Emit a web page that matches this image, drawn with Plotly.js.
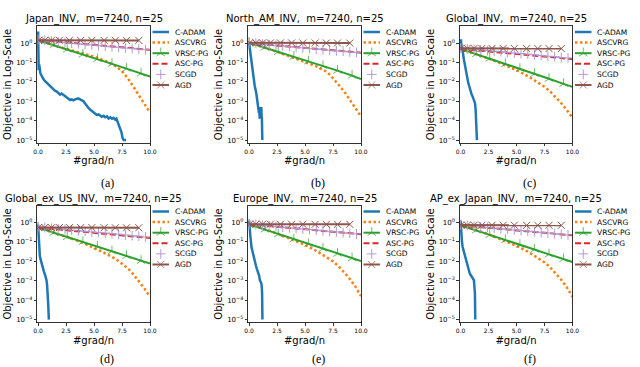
<!DOCTYPE html>
<html>
<head>
<meta charset="utf-8">
<script src="https://cdn.plot.ly/plotly-3.0.1.min.js"></script>
<style>html,body{margin:0;padding:0;background:#fff;}#chart{width:640px;height:367px;}</style>
</head>
<body>
<div id="chart"></div>
<script>
// ---------------- data ----------------
const panelNames = ['Japan_INV', 'North_AM_INV', 'Global_INV', 'Global_ex_US_INV', 'Europe_INV', 'AP_ex_Japan_INV'];
const captions = ['(a)', '(b)', '(c)', '(d)', '(e)', '(f)'];
const methods = ['C-ADAM', 'ASCVRG', 'VRSC-PG', 'ASC-PG', 'SCGD', 'AGD'];

const xTickVals = [0, 2.5, 5, 7.5, 10];
const xTickText = ['0.0', '2.5', '5.0', '7.5', '10.0'];
const yTickVals = [1e-5, 1e-4, 1e-3, 1e-2, 1e-1, 1];
const yTickText = ['10<sup>\u22125</sup>', '10<sup>\u22124</sup>', '10<sup>\u22123</sup>', '10<sup>\u22122</sup>', '10<sup>\u22121</sup>', '10<sup>0</sup>'];

// shared x grids (#grad/n)
const xAscvrg = [0, 1, 2, 3, 4, 5, 6, 7, 7.5, 8, 8.5, 9, 9.5, 10];
const xAscpg = [0, 2, 4, 6, 8, 10];
const xVrsc = [0, 1.4, 2.6, 4.0, 5.3, 6.6, 7.9, 9.2, 10];
const vrscMarkerSize = [7, 7, 7, 7, 7, 7, 7, 7, 0];
const xScgd = [0, 0.6, 1.2, 1.8, 2.4, 3.0, 3.6, 4.2, 4.8, 5.4, 6.0, 6.6, 7.2, 7.8, 8.4, 9.0, 9.6];
const xAgd = [0.05, 0.6, 1.2, 1.9, 2.8, 3.8, 4.8, 5.9, 6.9, 7.9, 9.0];

// (a) Japan_INV
const cadamX_a = [0, 0.02, 0.05, 0.1, 0.2, 0.3, 0.47, 0.6, 0.77, 0.9, 1.07, 1.2, 1.37, 1.5, 1.67, 1.8, 1.96, 2.1, 2.26, 2.4, 2.56, 2.7, 2.86, 3.0, 3.15, 3.3, 3.45, 3.6, 3.75, 3.9, 4.05, 4.2, 4.35, 4.5, 4.64, 4.8, 4.94, 5.1, 5.24, 5.4, 5.54, 5.7, 5.85, 6.0, 6.15, 6.3, 6.45, 6.6, 6.75, 6.9, 7.0, 7.15, 7.3, 7.45, 7.55, 7.65, 7.86];
const cadamY_a = [3.98, 0.5, 0.04, 0.079, 0.028, 0.02, 0.014, 0.0112, 0.0089, 0.0071, 0.0056, 0.005, 0.0042, 0.0035, 0.0032, 0.0026, 0.0022, 0.0025, 0.0021, 0.0018, 0.00145, 0.0013, 0.00117, 0.00126, 0.00112, 0.00126, 0.00135, 0.0014, 0.00126, 0.00112, 0.001, 7.6e-4, 5.6e-4, 4.5e-4, 3.8e-4, 3.2e-4, 2.5e-4, 2.2e-4, 2.0e-4, 2.1e-4, 1.9e-4, 1.6e-4, 1.8e-4, 1.5e-4, 1.66e-4, 1.3e-4, 1.5e-4, 1.26e-4, 1.4e-4, 1.12e-4, 1.26e-4, 7.9e-5, 4.0e-5, 2.5e-5, 1.26e-5, 1e-5, 1e-5];
const ascvrg_a = [1.41, 0.89, 0.6, 0.42, 0.3, 0.2, 0.12, 0.063, 0.035, 0.016, 0.0058, 0.0021, 0.00071, 0.00026];
const vrsc_a = [1.41, 0.79, 0.47, 0.26, 0.15, 0.085, 0.048, 0.027, 0.019];
const ascpg_a = [1.45, 1.15, 0.92, 0.74, 0.58, 0.45];
const scgd_a = [1.5, 1.38, 1.25, 1.15, 1.06, 0.98, 0.92, 0.85, 0.8, 0.74, 0.69, 0.64, 0.6, 0.56, 0.52, 0.49, 0.46];
const agd_a = [1.4, 1.4, 1.39, 1.39, 1.39, 1.38, 1.38, 1.38, 1.38, 1.37, 1.37];

// (b) North_AM_INV
const cadamX_b = [0, 0.1, 0.2, 0.3, 0.4, 0.5, 0.64, 0.72, 0.79, 0.85, 0.88, 0.91, 0.94, 0.97, 1.0, 1.03, 1.06, 1.09, 1.12, 1.14, 1.16, 1.18];
const cadamY_b = [1.0, 0.32, 0.093, 0.035, 0.013, 0.0063, 0.0026, 0.0014, 8.1e-4, 4e-4, 2.5e-4, 5e-4, 1.26e-4, 3.2e-4, 2e-4, 4.5e-4, 1.6e-4, 5e-4, 1.4e-4, 1.6e-4, 5e-5, 1e-5];
const ascvrg_b = [1.05, 0.71, 0.45, 0.28, 0.166, 0.1, 0.063, 0.032, 0.016, 0.0071, 0.0032, 0.0012, 4.0e-4, 1.66e-4];
const vrsc_b = [1.05, 0.59, 0.35, 0.2, 0.115, 0.066, 0.038, 0.021, 0.014];
const ascpg_b = [1.0, 0.8, 0.65, 0.52, 0.41, 0.32];
const scgd_b = [1.05, 0.97, 0.9, 0.83, 0.77, 0.71, 0.66, 0.61, 0.57, 0.53, 0.5, 0.46, 0.43, 0.4, 0.38, 0.35, 0.33];
const agd_b = [1.03, 1.03, 1.02, 1.02, 1.02, 1.02, 1.01, 1.01, 1.01, 1.01, 1.0];

// (c) Global_INV
const cadamX_c = [0, 0.03, 0.08, 0.18, 0.28, 0.38, 0.46, 0.54, 0.61, 0.68, 0.76, 0.83, 0.9, 0.98, 1.05, 1.13, 1.2, 1.28, 1.34, 1.38, 1.43, 1.46];
const cadamY_c = [0.5, 1.58, 0.63, 0.4, 0.158, 0.068, 0.035, 0.02, 0.014, 0.0091, 0.0063, 0.0042, 0.0032, 0.0023, 0.0019, 0.0015, 0.0011, 8.3e-4, 3.8e-4, 1.6e-4, 5.2e-5, 1e-5];
const ascvrg_c = [0.5, 0.32, 0.21, 0.126, 0.071, 0.04, 0.02, 0.0089, 0.0056, 0.0032, 0.0016, 7.9e-4, 3.5e-4, 1.4e-4];
const vrsc_c = [0.5, 0.27, 0.16, 0.083, 0.047, 0.026, 0.0145, 0.0079, 0.0055];
const ascpg_c = [0.5, 0.39, 0.31, 0.24, 0.19, 0.15];
const scgd_c = [0.55, 0.51, 0.47, 0.44, 0.41, 0.38, 0.36, 0.33, 0.31, 0.29, 0.27, 0.25, 0.23, 0.21, 0.2, 0.18, 0.17];
const agd_c = [0.54, 0.54, 0.53, 0.53, 0.53, 0.53, 0.53, 0.52, 0.52, 0.52, 0.52];

// (d) Global_ex_US_INV
const cadamX_d = [0, 0.03, 0.06, 0.1, 0.15, 0.22, 0.3, 0.38, 0.45, 0.52, 0.6, 0.68, 0.75, 0.8, 0.85, 0.9, 0.93, 0.96];
const cadamY_d = [0.79, 0.32, 0.083, 0.04, 0.02, 0.0126, 0.0078, 0.0052, 0.0038, 0.003, 0.0022, 0.0016, 0.00107, 6.3e-4, 3.2e-4, 6.6e-5, 2.5e-5, 1e-5];
const ascvrg_d = [0.55, 0.36, 0.24, 0.15, 0.091, 0.05, 0.026, 0.0126, 0.0079, 0.0045, 0.0022, 0.001, 4e-4, 1.5e-4];
const vrsc_d = [0.55, 0.3, 0.18, 0.1, 0.058, 0.033, 0.019, 0.0107, 0.0078];
const ascpg_d = [0.55, 0.43, 0.34, 0.26, 0.2, 0.16];
const scgd_d = [0.6, 0.55, 0.51, 0.47, 0.44, 0.41, 0.38, 0.35, 0.33, 0.31, 0.29, 0.27, 0.25, 0.23, 0.21, 0.2, 0.18];
const agd_d = [0.56, 0.56, 0.55, 0.55, 0.55, 0.55, 0.55, 0.54, 0.54, 0.54, 0.54];

// (e) Europe_INV
const cadamX_e = [0, 0.04, 0.08, 0.12, 0.21, 0.36, 0.48, 0.6, 0.7, 0.81, 0.9, 0.96, 1.03, 1.1, 1.14, 1.16, 1.19];
const cadamY_e = [1.26, 0.5, 0.32, 0.18, 0.055, 0.02, 0.0112, 0.0063, 0.004, 0.0028, 0.0018, 0.00107, 8.9e-4, 7.2e-4, 4e-4, 2.2e-4, 1e-5];
const ascvrg_e = [0.81, 0.54, 0.35, 0.21, 0.12, 0.071, 0.035, 0.0158, 0.01, 0.0056, 0.0028, 0.00126, 5e-4, 1.6e-4];
const vrsc_e = [0.81, 0.44, 0.25, 0.138, 0.079, 0.045, 0.025, 0.0145, 0.0105];
const ascpg_e = [0.82, 0.64, 0.51, 0.4, 0.32, 0.25];
const scgd_e = [0.85, 0.79, 0.73, 0.68, 0.63, 0.58, 0.54, 0.5, 0.47, 0.44, 0.41, 0.38, 0.35, 0.33, 0.3, 0.28, 0.26];
const agd_e = [0.83, 0.83, 0.82, 0.82, 0.82, 0.82, 0.82, 0.81, 0.81, 0.81, 0.81];

// (f) AP_ex_Japan_INV
const cadamX_f = [0, 0.03, 0.06, 0.12, 0.18, 0.28, 0.39, 0.5, 0.6, 0.72, 0.83, 0.95, 1.07, 1.15, 1.19, 1.24, 1.28, 1.31];
const cadamY_f = [1.26, 0.5, 0.18, 0.1, 0.055, 0.032, 0.017, 0.01, 0.0063, 0.0038, 0.0023, 0.00166, 0.00129, 0.00117, 0.00107, 5e-4, 2.2e-4, 1e-5];
const ascvrg_f = [0.72, 0.48, 0.32, 0.19, 0.112, 0.063, 0.032, 0.0141, 0.0089, 0.005, 0.0025, 0.00112, 4.5e-4, 1.5e-4];
const vrsc_f = [0.72, 0.4, 0.23, 0.126, 0.072, 0.041, 0.023, 0.0132, 0.0093];
const ascpg_f = [0.72, 0.57, 0.45, 0.36, 0.28, 0.22];
const scgd_f = [0.76, 0.7, 0.65, 0.6, 0.56, 0.52, 0.48, 0.45, 0.42, 0.39, 0.36, 0.34, 0.31, 0.29, 0.27, 0.25, 0.23];
const agd_f = [0.74, 0.74, 0.73, 0.73, 0.73, 0.73, 0.73, 0.72, 0.72, 0.72, 0.72];

const panelData = [
  {cx: cadamX_a, cy: cadamY_a, ascvrg: ascvrg_a, vrsc: vrsc_a, ascpg: ascpg_a, scgd: scgd_a, agd: agd_a},
  {cx: cadamX_b, cy: cadamY_b, ascvrg: ascvrg_b, vrsc: vrsc_b, ascpg: ascpg_b, scgd: scgd_b, agd: agd_b},
  {cx: cadamX_c, cy: cadamY_c, ascvrg: ascvrg_c, vrsc: vrsc_c, ascpg: ascpg_c, scgd: scgd_c, agd: agd_c},
  {cx: cadamX_d, cy: cadamY_d, ascvrg: ascvrg_d, vrsc: vrsc_d, ascpg: ascpg_d, scgd: scgd_d, agd: agd_d},
  {cx: cadamX_e, cy: cadamY_e, ascvrg: ascvrg_e, vrsc: vrsc_e, ascpg: ascpg_e, scgd: scgd_e, agd: agd_e},
  {cx: cadamX_f, cy: cadamY_f, ascvrg: ascvrg_f, vrsc: vrsc_f, ascpg: ascpg_f, scgd: scgd_f, agd: agd_f}
];

// ---------------- styles & layout geometry ----------------
const W = 640, H = 367;
const FONT = 'DejaVu Sans, sans-serif';
const C = {cadam: '#1f77b4', ascvrg: '#ff7f0e', vrsc: '#2ca02c', ascpg: '#d62728', scgd: '#b29ad6', agd: '#8c564b'};
const colLeft = [37, 248, 459.5];
const colRight = [150, 361, 572.5];
const rowTop = [26, 205.5];
const rowBottom = [143, 322.5];

const styles = {
  cadam: {mode: 'lines', line: {color: C.cadam, width: 2.5}},
  ascvrg: {mode: 'lines', line: {color: C.ascvrg, width: 2.5, dash: '2.5px,2.5px'}},
  vrsc: {mode: 'lines+markers', line: {color: C.vrsc, width: 2}, marker: {symbol: 'y-up', color: C.vrsc, line: {color: C.vrsc, width: 1}}},
  ascpg: {mode: 'lines', line: {color: C.ascpg, width: 2, dash: '6px,3px'}},
  scgd: {mode: 'markers', marker: {symbol: 'cross-thin', size: 7, color: C.scgd, line: {color: C.scgd, width: 1}}},
  agd: {mode: 'lines+markers', line: {color: C.agd, width: 2}, marker: {symbol: 'x-thin', size: 7, color: C.agd, line: {color: C.agd, width: 1}}}
};

const traces = [];
const layout = {
  width: W, height: H,
  margin: {l: 0, r: 0, t: 0, b: 0},
  paper_bgcolor: '#ffffff',
  plot_bgcolor: 'rgba(0,0,0,0)',
  showlegend: false,
  font: {family: FONT, color: '#000', size: 10},
  annotations: []
};

function px2paperX(px) { return px / W; }
function px2paperY(py) { return 1 - py / H; }

panelData.forEach((d, i) => {
  const col = i % 3, row = Math.floor(i / 3);
  const n = i + 1;
  const xa = 'x' + n, ya = 'y' + n;
  const base = {xaxis: xa, yaxis: ya, showlegend: false, hoverinfo: 'skip'};
  traces.push(Object.assign({}, base, styles.cadam, {x: d.cx, y: d.cy, name: methods[0]}));
  traces.push(Object.assign({}, base, styles.ascvrg, {x: xAscvrg, y: d.ascvrg, name: methods[1]}));
  const vr = JSON.parse(JSON.stringify(styles.vrsc));
  vr.marker.size = vrscMarkerSize;
  traces.push(Object.assign({}, base, vr, {x: xVrsc, y: d.vrsc, name: methods[2]}));
  traces.push(Object.assign({}, base, styles.ascpg, {x: xAscpg, y: d.ascpg, name: methods[3]}));
  traces.push(Object.assign({}, base, styles.scgd, {x: xScgd, y: d.scgd, name: methods[4]}));
  traces.push(Object.assign({}, base, styles.agd, {x: xAgd, y: d.agd, name: methods[5]}));

  layout['xaxis' + (n === 1 ? '' : n)] = {
    domain: [px2paperX(colLeft[col]), px2paperX(colRight[col])],
    anchor: ya, range: [-0.1, 10],
    tickmode: 'array', tickvals: xTickVals, ticktext: xTickText,
    ticks: 'outside', ticklen: 2.5, tickwidth: 0.8, tickcolor: '#000',
    tickfont: {size: 6, family: FONT, color: '#000'},
    showline: true, mirror: true, linecolor: '#000', linewidth: 0.8,
    showgrid: false, zeroline: false, fixedrange: true,
    title: {text: '#grad/n', font: {size: 10, family: FONT, color: '#000'}, standoff: 3}
  };
  layout['yaxis' + (n === 1 ? '' : n)] = {
    domain: [px2paperY(rowBottom[row]), px2paperY(rowTop[row])],
    anchor: xa, type: 'log', range: [-5.15, 0.88],
    tickmode: 'array', tickvals: yTickVals, ticktext: yTickText,
    ticks: 'outside', ticklen: 2.5, tickwidth: 0.8, tickcolor: '#000',
    tickfont: {size: 7, family: FONT, color: '#000'},
    showline: true, mirror: true, linecolor: '#000', linewidth: 0.8,
    showgrid: false, zeroline: false, fixedrange: true,
    title: {text: 'Objective in Log-Scale', font: {size: 10, family: FONT, color: '#000'}, standoff: 2}
  };

  // panel title
  const cx = (colLeft[col] + colRight[col]) / 2;
  layout.annotations.push({
    xref: 'paper', yref: 'paper', x: px2paperX(cx), y: px2paperY(rowTop[row] - 6.5),
    xanchor: 'center', yanchor: 'middle', showarrow: false,
    text: panelNames[i] + ',\u00a0 m=7240, n=25', font: {size: 10, family: FONT, color: '#000'}
  });
  // caption
  layout.annotations.push({
    xref: 'paper', yref: 'paper', x: px2paperX(colLeft[col] + 70), y: px2paperY(row === 0 ? 183 : 359),
    xanchor: 'center', yanchor: 'middle', showarrow: false, borderpad: 0,
    text: captions[i], font: {size: 12, family: 'Liberation Serif, Times New Roman, serif', color: '#000'}
  });

  // legend (drawn on a pixel overlay axis)
  const lx = colRight[col] + 2.5, ly0 = rowTop[row] + 6, dy = 10.6, hl = 16.5;
  const keys = ['cadam', 'ascvrg', 'vrsc', 'ascpg', 'scgd', 'agd'];
  keys.forEach((k, j) => {
    const ly = ly0 + j * dy;
    const st = JSON.parse(JSON.stringify(styles[k]));
    let t;
    if (k === 'scgd') {
      t = Object.assign({}, st, {x: [lx + hl / 2], y: [ly]});
    } else {
      t = Object.assign({}, st, {x: [lx, lx + hl / 2, lx + hl], y: [ly, ly, ly]});
      if (st.marker) { t.marker.size = [0, st.marker.size || 7, 0]; }
    }
    t.xaxis = 'x7'; t.yaxis = 'y7'; t.showlegend = false; t.hoverinfo = 'skip';
    t.cliponaxis = false;
    traces.push(t);
    layout.annotations.push({
      xref: 'x7', yref: 'y7', x: lx + 20, y: ly, xanchor: 'left', yanchor: 'middle',
      showarrow: false, text: methods[j], font: {size: 7.5, family: FONT, color: '#000'}
    });
  });
});

layout.xaxis7 = {domain: [0, 1], range: [0, W], anchor: 'y7', visible: false, fixedrange: true};
layout.yaxis7 = {domain: [0, 1], range: [H, 0], anchor: 'x7', visible: false, fixedrange: true};

Plotly.newPlot('chart', traces, layout, {staticPlot: true, displayModeBar: false});
</script>
</body>
</html>
